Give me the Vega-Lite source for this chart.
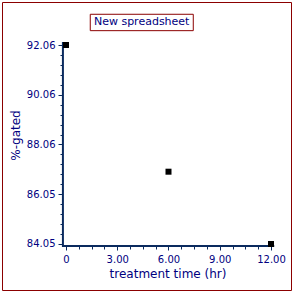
{
  "$schema": "https://vega.github.io/schema/vega-lite/v6.json",
  "width": 289,
  "height": 288,
  "autosize": {"type": "none"},
  "padding": {"left": 2, "top": 2, "right": 3, "bottom": 4},
  "background": "white",
  "config": {
    "view": {"stroke": "#8B0000", "strokeWidth": 1},
    "font": "DejaVu Sans"
  },
  "data": {
    "values": [
      {"time": 0, "gated": 92.06},
      {"time": 6, "gated": 86.96},
      {"time": 12, "gated": 84.05}
    ]
  },
  "layer": [
    {
      "data": {"values": [{}]},
      "mark": {"type": "rule", "color": "#0A2A5E", "strokeWidth": 2},
      "encoding": {
        "x": {"datum": -0.18, "type": "quantitative"},
        "y": {"datum": 83.93, "type": "quantitative"},
        "y2": {"datum": 92.18}
      }
    },
    {
      "data": {"values": [{}]},
      "mark": {"type": "rule", "color": "#0A2A5E", "strokeWidth": 2},
      "encoding": {
        "x": {"datum": -0.234, "type": "quantitative"},
        "x2": {"datum": 12.19},
        "y": {"datum": 83.97, "type": "quantitative"}
      }
    },
    {
      "data": {"values": [{}]},
      "mark": {"type": "rect", "fill": "white", "stroke": "#8B0000", "strokeWidth": 1},
      "encoding": {
        "x": {"datum": 1.42, "type": "quantitative"},
        "x2": {"datum": 7.45},
        "y": {"datum": 93.297, "type": "quantitative"},
        "y2": {"datum": 92.637}
      }
    },
    {
      "data": {"values": [{}]},
      "mark": {"type": "text", "text": "New spreadsheet", "fontSize": 11, "color": "#000080", "align": "center", "baseline": "middle", "font": "DejaVu Sans"},
      "encoding": {
        "x": {"datum": 4.43, "type": "quantitative"},
        "y": {"datum": 92.967, "type": "quantitative"}
      }
    },
    {
      "mark": {"type": "point", "shape": "square", "filled": true, "color": "black", "size": 36, "opacity": 1},
      "encoding": {
        "x": {
          "field": "time",
          "type": "quantitative",
          "scale": {"domain": [-3.746, 13.171], "nice": false, "zero": false},
          "axis": {
            "title": "treatment time (hr)",
            "offset": -44,
            "values": [0, 0.75, 1.5, 2.25, 3, 3.75, 4.5, 5.25, 6, 6.75, 7.5, 8.25, 9, 9.75, 10.5, 11.25, 12],
            "tickCount": 100,
            "domain": false,
            "grid": false,
            "labelExpr": "datum.value % 3 == 0 ? (datum.value == 0 ? '0' : format(datum.value, '.2f')) : ''",
            "tickSize": {"condition": {"test": "datum.value % 3 == 0", "value": 4}, "value": 3},
            "tickColor": "#0A2A5E",
            "tickWidth": 1,
            "labelColor": "#000080",
            "labelFontSize": 10,
            "labelFont": "DejaVu Sans",
            "labelPadding": 4,
            "labelOverlap": false,
            "labelFlush": false,
            "labelBound": false,
            "titleColor": "#000080",
            "titleFontSize": 12,
            "titleFont": "DejaVu Sans",
            "titleFontWeight": "normal",
            "titleX": 165.5,
            "titleY": 27,
            "titleAlign": "center",
            "titleBaseline": "middle"
          }
        },
        "y": {
          "field": "gated",
          "type": "quantitative",
          "scale": {"domain": [82.198, 93.791], "nice": false, "zero": false},
          "axis": {
            "title": "%-gated",
            "offset": -60,
            "values": [84.05, 84.4505, 84.851, 85.2515, 85.652, 86.0525, 86.453, 86.8535, 87.254, 87.6545, 88.0551, 88.4555, 88.856, 89.2565, 89.657, 90.0576, 90.458, 90.8585, 91.259, 91.6595, 92.06],
            "tickCount": 100,
            "domain": false,
            "grid": false,
            "labelExpr": "indexof([84.05, 86.0525, 88.0551, 90.0576, 92.06], datum.value) >= 0 ? format(datum.value, '.2f') : ''",
            "tickSize": {"condition": {"test": "indexof([84.05, 86.0525, 88.0551, 90.0576, 92.06], datum.value) >= 0", "value": 4}, "value": 2},
            "tickColor": "#0A2A5E",
            "tickWidth": 1,
            "labelColor": "#000080",
            "labelFontSize": 10,
            "labelFont": "DejaVu Sans",
            "labelPadding": 3,
            "labelOverlap": false,
            "labelFlush": false,
            "labelBound": false,
            "titleColor": "#000080",
            "titleFontSize": 12,
            "titleFont": "DejaVu Sans",
            "titleFontWeight": "normal",
            "titleAngle": -90,
            "titleX": -47,
            "titleY": 133,
            "titleAlign": "center",
            "titleBaseline": "middle"
          }
        }
      }
    }
  ]
}
